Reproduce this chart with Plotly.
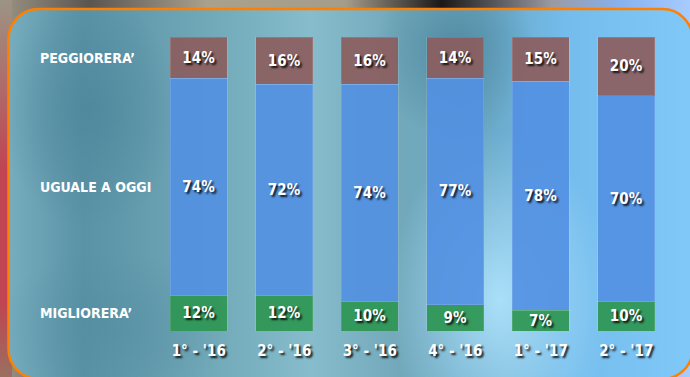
import base64
import plotly.graph_objects as go

# Survey periods and answer shares (%)
periods = ["1° - '16", "2° - '16", "3° - '16", "4° - '16", "1° - '17", "2° - '17"]
migliorera = [12, 12, 10, 9, 7, 10]
uguale = [74, 72, 74, 77, 78, 70]
peggiorera = [14, 16, 16, 14, 15, 20]
row_labels = ["MIGLIORERA’", "UGUALE A OGGI", "PEGGIORERA’"]

W, H = 690, 377
ML, MR, MT, MB = 156, 21, 37, 46
PW, PH = W - ML - MR, H - MT - MB

FONT = "DejaVu Sans Condensed, Liberation Sans Narrow, Arial Narrow, sans-serif"
SHADOW = "2px 2px 2px rgba(0,0,0,0.85)"

# Blurred backdrop with the rounded orange-framed panel
svg = f"""<svg xmlns='http://www.w3.org/2000/svg' width='{W}' height='{H}' viewBox='0 0 {W} {H}'>
<defs>
<linearGradient id='outer' x1='0' y1='0' x2='1' y2='0'>
<stop offset='0' stop-color='#9c9484'/><stop offset='0.13' stop-color='#5a5550'/>
<stop offset='0.3' stop-color='#a9a08d'/><stop offset='0.5' stop-color='#a59d8c'/>
<stop offset='0.64' stop-color='#1a1818'/><stop offset='0.8' stop-color='#9a9aa2'/>
<stop offset='0.9' stop-color='#88b2f0'/><stop offset='1' stop-color='#a6ccff'/>
</linearGradient>
<linearGradient id='leftstrip' x1='0' y1='0' x2='0' y2='1'>
<stop offset='0' stop-color='#9c9484'/><stop offset='0.45' stop-color='#c04452'/>
<stop offset='0.8' stop-color='#c04452'/><stop offset='1' stop-color='#9a7060'/>
</linearGradient>
<linearGradient id='panel' x1='0' y1='0' x2='1' y2='0'>
<stop offset='0' stop-color='#7ab0c0'/><stop offset='0.12' stop-color='#5a92a6'/>
<stop offset='0.28' stop-color='#6ea6b6'/><stop offset='0.45' stop-color='#86bccb'/>
<stop offset='0.58' stop-color='#72a8ba'/><stop offset='0.7' stop-color='#6aa8c6'/>
<stop offset='0.82' stop-color='#74bcec'/><stop offset='1' stop-color='#80c8f8'/>
</linearGradient>
<radialGradient id='glow' cx='0.5' cy='0.5' r='0.5'>
<stop offset='0' stop-color='#aee2fb' stop-opacity='0.95'/>
<stop offset='1' stop-color='#aee2fb' stop-opacity='0'/>
</radialGradient>
<radialGradient id='dark' cx='0.5' cy='0.5' r='0.5'>
<stop offset='0' stop-color='#4e869c' stop-opacity='0.85'/>
<stop offset='1' stop-color='#4e869c' stop-opacity='0'/>
</radialGradient>
<clipPath id='clip'><rect x='8.5' y='9' width='684' height='370' rx='30' ry='30'/></clipPath>
</defs>
<rect x='0' y='0' width='{W}' height='{H}' fill='url(#outer)'/>
<rect x='0' y='0' width='12' height='{H}' fill='url(#leftstrip)'/>
<g clip-path='url(#clip)'>
<rect x='0' y='0' width='{W}' height='{H}' fill='url(#panel)'/>
<ellipse cx='500' cy='300' rx='110' ry='170' fill='url(#glow)'/>
<ellipse cx='90' cy='110' rx='90' ry='120' fill='url(#dark)'/>
<ellipse cx='455' cy='50' rx='80' ry='90' fill='url(#dark)'/>
<ellipse cx='110' cy='330' rx='120' ry='80' fill='url(#dark)' opacity='0.5'/>
</g>
<rect x='8.5' y='9' width='684' height='370' rx='30' ry='30' fill='none' stroke='#ff8000' stroke-width='2.5'/>
</svg>"""
bg_src = "data:image/svg+xml;base64," + base64.b64encode(svg.encode()).decode()

series = [
    (migliorera, "rgba(46,150,82,0.92)"),
    (uguale, "rgba(82,144,226,0.9)"),
    (peggiorera, "rgba(140,92,92,0.9)"),
]

fig = go.Figure()
for vals, col in series:
    fig.add_trace(go.Bar(
        x=periods, y=vals,
        marker=dict(color=col, line=dict(width=1, color="rgba(255,255,255,0.12)")),
        texttemplate="%{y}%", textposition="inside", insidetextanchor="middle",
        textangle=0, constraintext="none",
        textfont=dict(family=FONT, size=15, color="white", weight="bold", shadow=SHADOW),
        hoverinfo="skip",
    ))

# Row labels next to the segments of the first bar
bottom = 0
for lab, vals in zip(row_labels, [migliorera, uguale, peggiorera]):
    mid = bottom + vals[0] / 2
    bottom += vals[0]
    fig.add_annotation(
        xref="paper", yref="y", x=(38 - ML) / PW, y=mid, xanchor="left", yanchor="middle",
        text=lab, showarrow=False,
        font=dict(family=FONT, size=14, color="white", weight="bold"),
    )

fig.add_layout_image(
    source=bg_src, xref="paper", yref="paper",
    x=-ML / PW, y=1 + MT / PH, sizex=W / PW, sizey=H / PH,
    xanchor="left", yanchor="top", sizing="stretch", layer="below",
)

fig.update_layout(
    width=W, height=H, barmode="stack", bargap=0.334,
    margin=dict(l=ML, r=MR, t=MT, b=MB),
    paper_bgcolor="rgba(0,0,0,0)", plot_bgcolor="rgba(0,0,0,0)",
    showlegend=False,
    xaxis=dict(showgrid=False, zeroline=False, showline=False, ticks="",
               ticklabelstandoff=9,
               tickfont=dict(family=FONT, size=15, color="white", weight="bold", shadow=SHADOW)),
    yaxis=dict(range=[0, 100], visible=False),
)

fig.write_html("out.html")
